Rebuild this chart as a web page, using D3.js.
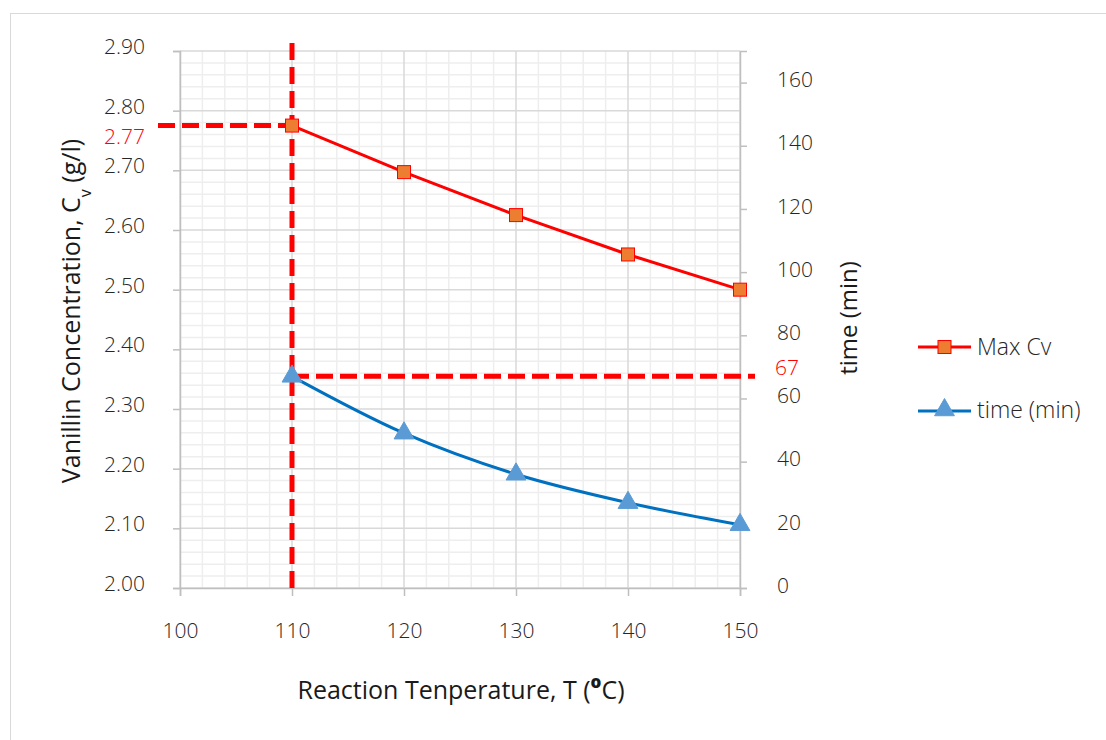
<!DOCTYPE html>
<html>
<head>
<meta charset="utf-8">
<script src="https://cdn.jsdelivr.net/npm/d3@7"></script>
<style>
  body { margin: 0; background: #fff; }
  text { font-family: "Open Sans", "Noto Sans", sans-serif; }
</style>
</head>
<body>
<div id="chart"></div>
<script>
// data
var temps = [110, 120, 130, 140, 150];
var maxCv = [2.775, 2.697, 2.625, 2.559, 2.500];
var timeMin = [67, 49, 36, 27, 20];
var leftTicks = [2.0, 2.1, 2.2, 2.3, 2.4, 2.5, 2.6, 2.7, 2.8, 2.9];
var rightTicks = [0, 20, 40, 60, 80, 100, 120, 140, 160];
var xTicks = [100, 110, 120, 130, 140, 150];
var optCv = 2.775, optTime = 67, optTemp = 110;

var W = 1106, H = 740;
var margin = { top: 51, right: 366, bottom: 152, left: 180 },
    width = W - margin.left - margin.right,
    height = H - margin.top - margin.bottom;

var svg = d3.select("#chart")
    .append("svg")
    .attr("width", W)
    .attr("height", H);

// chart area border
svg.append("rect")
    .attr("x", 10.5).attr("y", 13.5)
    .attr("width", W + 20).attr("height", H + 20)
    .attr("fill", "none").attr("stroke", "#d9d9d9");

var g = svg.append("g")
    .attr("transform", "translate(" + margin.left + "," + margin.top + ")");

var x = d3.scaleLinear().domain([100, 150]).range([0, width]);
var y = d3.scaleLinear().domain([2.0, 2.9]).range([height, 0]);
var y2 = d3.scaleLinear().domain([0, 170]).range([height, 0]);

// minor gridlines
var minorX = d3.range(100, 150.01, 2).filter(function (d) { return d % 10 !== 0; });
var minorY = d3.range(2.0, 2.9001, 0.02).filter(function (d) { return Math.abs(d * 10 - Math.round(d * 10)) > 1e-6; });
g.selectAll(".minx").data(minorX).enter().append("line")
    .attr("x1", function (d) { return x(d); }).attr("x2", function (d) { return x(d); })
    .attr("y1", 0).attr("y2", height)
    .attr("stroke", "#eeeeee").attr("stroke-width", 1.5);
g.selectAll(".miny").data(minorY).enter().append("line")
    .attr("y1", function (d) { return y(d); }).attr("y2", function (d) { return y(d); })
    .attr("x1", 0).attr("x2", width)
    .attr("stroke", "#eeeeee").attr("stroke-width", 1.5);

// major gridlines
g.selectAll(".majx").data(xTicks).enter().append("line")
    .attr("x1", function (d) { return x(d); }).attr("x2", function (d) { return x(d); })
    .attr("y1", 0).attr("y2", height)
    .attr("stroke", "#d9d9d9").attr("stroke-width", 1.5);
g.selectAll(".majy").data(leftTicks).enter().append("line")
    .attr("y1", function (d) { return y(d); }).attr("y2", function (d) { return y(d); })
    .attr("x1", 0).attr("x2", width)
    .attr("stroke", "#d9d9d9").attr("stroke-width", 1.5);

// axes
function styleAxis(sel) {
    sel.select(".domain").attr("stroke", "#bfbfbf").attr("stroke-width", 1.5);
    sel.selectAll(".tick line").attr("stroke", "#bfbfbf").attr("stroke-width", 1.5);
    sel.selectAll(".tick text").attr("fill", "#262626").attr("font-size", "21px")
        .style("font-family", "'Open Sans', sans-serif").style("font-weight", 300);
}

g.append("g")
    .attr("transform", "translate(0," + height + ")")
    .call(d3.axisBottom(x).tickValues(xTicks).tickSizeOuter(0).tickSize(8).tickPadding(27))
    .call(styleAxis);

g.append("g")
    .call(d3.axisLeft(y).tickValues(leftTicks).tickFormat(d3.format(".2f")).tickSizeOuter(0).tickSize(7).tickPadding(28))
    .call(styleAxis)
    .selectAll(".tick text").attr("dy", "0.12em");

g.append("g")
    .attr("transform", "translate(" + width + ",0)")
    .call(d3.axisRight(y2).tickValues(rightTicks).tickSizeOuter(0).tickSize(7).tickPadding(30))
    .call(styleAxis)
    .selectAll(".tick text").attr("dy", "0.2em");

// reference dashed lines
var dash = { stroke: "#ff0000", width: 5, array: "17,7" };
g.append("line")
    .attr("x1", -22).attr("x2", x(optTemp))
    .attr("y1", y(optCv)).attr("y2", y(optCv))
    .attr("stroke", dash.stroke).attr("stroke-width", dash.width).attr("stroke-dasharray", dash.array);
g.append("line")
    .attr("x1", x(optTemp)).attr("x2", x(optTemp))
    .attr("y1", -8).attr("y2", height + 4)
    .attr("stroke", dash.stroke).attr("stroke-width", dash.width).attr("stroke-dasharray", dash.array);
g.append("line")
    .attr("x1", x(optTemp)).attr("x2", width + 15)
    .attr("y1", y2(optTime)).attr("y2", y2(optTime))
    .attr("stroke", dash.stroke).attr("stroke-width", dash.width).attr("stroke-dasharray", dash.array);

g.append("text")
    .attr("x", -35).attr("y", y(optCv) + 18)
    .attr("text-anchor", "end").attr("fill", "#ff0000").attr("font-size", "21px").attr("font-weight", 300)
    .text("2.77");
g.append("text")
    .attr("x", width + 35).attr("y", y2(optTime) - 1)
    .attr("text-anchor", "start").attr("fill", "#ff0000").attr("font-size", "21px").attr("font-weight", 300)
    .text("67");

// series
var cvData = temps.map(function (t, i) { return { t: t, v: maxCv[i] }; });
var tData = temps.map(function (t, i) { return { t: t, v: timeMin[i] }; });

g.append("path")
    .datum(cvData)
    .attr("fill", "none").attr("stroke", "#ff0000").attr("stroke-width", 3)
    .attr("d", d3.line().x(function (d) { return x(d.t); }).y(function (d) { return y(d.v); }));

g.append("path")
    .datum(tData)
    .attr("fill", "none").attr("stroke", "#0070c0").attr("stroke-width", 3)
    .attr("d", d3.line().curve(d3.curveCatmullRom.alpha(0.5))
        .x(function (d) { return x(d.t); }).y(function (d) { return y2(d.v); }));

g.selectAll(".sq").data(cvData).enter().append("rect")
    .attr("x", function (d) { return x(d.t) - 6.5; })
    .attr("y", function (d) { return y(d.v) - 6.5; })
    .attr("width", 13).attr("height", 13)
    .attr("fill", "#ed7d31").attr("stroke", "#ff0000").attr("stroke-width", 1);

var tri = d3.symbol().type(d3.symbolTriangle).size(170);
g.selectAll(".tri").data(tData).enter().append("path")
    .attr("d", tri)
    .attr("transform", function (d) { return "translate(" + x(d.t) + "," + y2(d.v) + ")"; })
    .attr("fill", "#5b9bd5").attr("stroke", "#5b9bd5").attr("stroke-width", 1)
    .attr("stroke-linejoin", "round");

// axis titles
svg.append("text")
    .attr("transform", "translate(80," + (margin.top + 260) + ") rotate(-90)")
    .attr("text-anchor", "middle").attr("font-size", "25px").attr("font-weight", 400).attr("fill", "#1a1a1a")
    .html("Vanillin Concentration, C<tspan baseline-shift='sub' font-size='16px'>v</tspan> (g/l)");

svg.append("text")
    .attr("transform", "translate(857," + 318 + ") rotate(-90)")
    .attr("text-anchor", "middle").attr("font-size", "24px").attr("font-weight", 400).attr("fill", "#1a1a1a")
    .text("time (min)");

svg.append("text")
    .attr("x", 461).attr("y", 699)
    .attr("text-anchor", "middle").attr("font-size", "25px").attr("font-weight", 400).attr("fill", "#1a1a1a")
    .html("Reaction Tenperature, T (<tspan baseline-shift='super' font-size='17px' font-weight='800'>o</tspan>C)");

// legend
var legend = svg.append("g").attr("transform", "translate(918,0)");
legend.append("line").attr("x1", 0).attr("x2", 53).attr("y1", 347).attr("y2", 347)
    .attr("stroke", "#ff0000").attr("stroke-width", 3);
legend.append("rect").attr("x", 26.5 - 6.5).attr("y", 347 - 6.5).attr("width", 13).attr("height", 13)
    .attr("fill", "#ed7d31").attr("stroke", "#ff0000");
legend.append("text").attr("x", 59).attr("y", 355).attr("font-size", "23px").attr("font-weight", 300).attr("fill", "#262626").text("Max Cv");

legend.append("line").attr("x1", 0).attr("x2", 53).attr("y1", 411).attr("y2", 411)
    .attr("stroke", "#0070c0").attr("stroke-width", 3);
legend.append("path").attr("d", tri)
    .attr("transform", "translate(26.5,410)")
    .attr("fill", "#5b9bd5").attr("stroke", "#5b9bd5").attr("stroke-linejoin", "round");
legend.append("text").attr("x", 59).attr("y", 418).attr("font-size", "23px").attr("font-weight", 300).attr("fill", "#262626").text("time (min)");
</script>
</body>
</html>
